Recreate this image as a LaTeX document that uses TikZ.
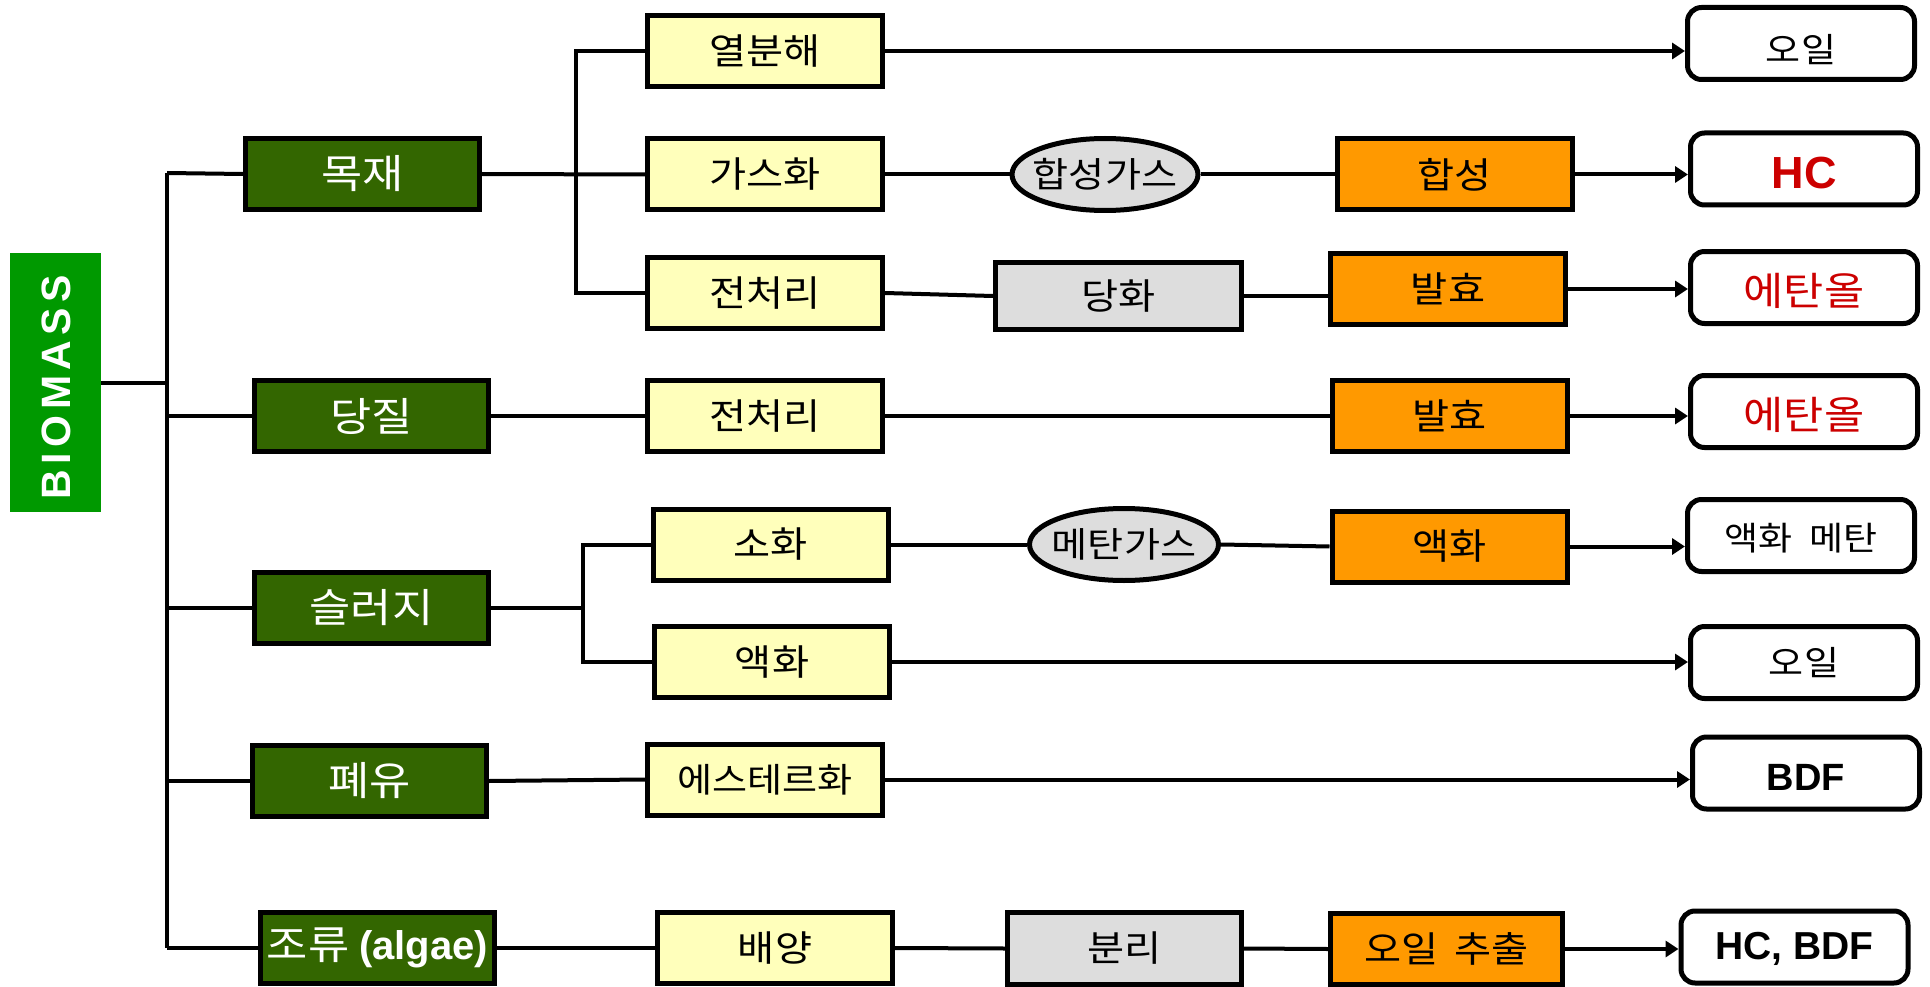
\documentclass[tikz,border=0pt]{standalone}
\usepackage{fontspec}
\setmainfont{Noto Sans CJK KR}[FakeStretch=1.12]
\newfontfamily\lat{Liberation Sans}
\usetikzlibrary{arrows.meta,shapes.geometric}
\definecolor{biog}{HTML}{009900}
\definecolor{catg}{HTML}{336600}
\definecolor{yelf}{HTML}{FFFFBB}
\definecolor{gryf}{HTML}{DDDDDD}
\definecolor{orgf}{HTML}{FF9900}
\definecolor{redt}{HTML}{CC0000}
\newcommand\fsz[1]{\fontsize{#1}{#1}\selectfont}
\newcommand\dn[2]{\raisebox{0pt}[\dimexpr\height+#1pt*2\relax][\depth]{#2}}
\newcommand\fixw[1]{\makebox[110pt]{#1}}
\begin{document}
\begin{tikzpicture}[x=1pt,y=-1pt,
  every node/.style={inner sep=0pt},
  biobox/.style={fill=biog, minimum width=91pt, minimum height=259pt},
  catbox/.style={draw=black, line width=5pt, fill=catg, text=white, minimum width=234pt, minimum height=71pt, font=\fsz{40}},
  yelbox/.style={draw=black, line width=5pt, fill=yelf, minimum width=235pt, minimum height=71pt, font=\fsz{36}},
  grybox/.style={draw=black, line width=5pt, fill=gryf, minimum width=234pt, minimum height=71pt, font=\fsz{36}},
  ellbox/.style={ellipse, draw=black, line width=5pt, fill=gryf, minimum width=186pt, minimum height=72pt, font=\fsz{35}},
  orgbox/.style={draw=black, line width=5pt, fill=orgf, minimum width=235pt, minimum height=71pt, font=\fsz{36}},
  outbox/.style={draw=black, line width=5pt, fill=white, rounded corners=14pt, minimum width=227pt, minimum height=72pt, font=\fsz{34}},
  conn/.style={line width=4pt},
  arr/.style={line width=4pt, -{Triangle[length=13pt,width=16pt]}}
]
\useasboundingbox (0,0) rectangle (1930,987);

% BIOMASS
\node[biobox] (bio) at (55.5,382.5) {};
\node[rotate=90, text=white, font=\lat\bfseries\fsz{41}] (biotxt) at (56.5,387) {B\kern5.5pt I\kern5.5pt O\kern5.5pt M\kern5.5pt A\kern5.5pt S\kern5.5pt S};

% categories
\node[catbox] (mok) at (362.5,174) {목재};
\node[catbox] (dang) at (371.5,416) {당질};
\node[catbox] (slu) at (371.5,607.5) {슬러지};
\node[catbox] (pye) at (369.5,781) {폐유};
\node[catbox] (jo) at (377.5,948) {조류 {\lat\bfseries (algae)}};

% yellow
\node[yelbox] (yeol) at (765,51) {열분해};
\node[yelbox] (gas) at (765,174.5) {가스화};
\node[yelbox] (jeon1) at (765,293) {전처리};
\node[yelbox] (jeon2) at (765,416) {전처리};
\node[yelbox] (soh) at (770.5,544.5) {소화};
\node[yelbox] (aekY) at (772,662) {액화};
\node[yelbox, font=\fsz{34}] (est) at (765,779.5) {에스테르화};
\node[yelbox] (bae) at (775,948) {배양};

% middle
\node[ellbox] (hapgas) at (1105,174.5) {\fixw{합성가스}};
\node[grybox, minimum width=246pt, minimum height=67pt] (danghwa) at (1118.5,296) {당화};
\node[ellbox, minimum width=189pt] (metgas) at (1124,544.5) {\fixw{메탄가스}};
\node[grybox, minimum height=72pt] (bun) at (1124.5,948.5) {분리};

% orange
\node[orgbox] (hap) at (1454.5,174.5) {합성};
\node[orgbox] (bal1) at (1448,289) {발효};
\node[orgbox] (bal2) at (1449.5,416) {발효};
\node[orgbox] (aekO) at (1449.5,546.5) {액화};
\node[orgbox, minimum width=232pt, minimum height=71pt] (oilx) at (1446.5,949) {오일\hspace{0.45em}추출};

% outputs
\node[outbox] (o1) at (1801,43.5) {\dn{6}{오일}};
\node[outbox, text=redt, font=\lat\bfseries\fsz{45}] (o2) at (1804,169) {\dn{4}{HC}};
\node[outbox, text=redt, font=\fsz{39}] (o3) at (1804,287.5) {\dn{3}{에탄올}};
\node[outbox, text=redt, font=\fsz{39}] (o4) at (1804,411.5) {\dn{3}{에탄올}};
\node[outbox, font=\fsz{33}] (o5) at (1801,535.5) {\dn{3}{액화\hspace{0.5em}메탄}};
\node[outbox] (o6) at (1804,662.5) {오일};
\node[outbox, font=\lat\bfseries\fsz{38}] (o7) at (1806,773) {\dn{4}{BDF}};
\node[outbox, font=\lat\bfseries\fsz{39}] (o8) at (1794.5,947) {\dn{2}{HC, BDF}};

% trunk
\coordinate (t1) at (167,173);
\coordinate (t2) at (167,948);
\draw[conn] (t1) -- (t2);
\draw[conn] (bio.east) -- (bio.east -| t1);
\draw[conn] (t1) -- (mok.west);
\draw[conn] (dang.west) -- (dang.west -| t1);
\draw[conn] (slu.west) -- (slu.west -| t1);
\draw[conn] (pye.west) -- (pye.west -| t1);
\draw[conn] (jo.west) -- (jo.west -| t1);

% wood branch
\coordinate (s1a) at (576,51);
\coordinate (s1b) at (576,293);
\draw[conn] (yeol.west) -- (s1a) -- (s1b) -- (jeon1.west);
\draw[conn] (mok.east) -- (gas.west);

% sludge branch
\coordinate (s2a) at (583,544.5);
\coordinate (s2b) at (583,662);
\draw[conn] (soh.west) -- (s2a) -- (s2b) -- (aekY.west);
\draw[conn] (slu.east) -- (slu.east -| s2a);

% other category links
\draw[conn] (dang.east) -- (jeon2.west);
\draw[conn] (pye.east) -- (est.west);
\draw[conn] (jo.east) -- (bae.west);

% process chains
\draw[conn] (gas.east) -- (hapgas.west);
\draw[conn] (hapgas.east) -- (hap.west);
\draw[conn] (jeon1.east) -- (danghwa.west);
\draw[conn] (danghwa.east) -- (danghwa.east -| bal1.west);
\draw[conn] (jeon2.east) -- (bal2.west);
\draw[conn] (soh.east) -- (metgas.west);
\draw[conn] (metgas.east) -- (aekO.west);
\draw[conn] (bae.east) -- (bun.west);
\draw[conn] (bun.east) -- (oilx.west);

% arrows to outputs
\draw[arr] (yeol.east) -- (yeol.east -| o1.west);
\draw[arr] (hap.east) -- (hap.east -| o2.west);
\draw[arr] (bal1.east) -- (bal1.east -| o3.west);
\draw[arr] (bal2.east) -- (bal2.east -| o4.west);
\draw[arr] (aekO.east) -- (aekO.east -| o5.west);
\draw[arr] (aekY.east) -- (aekY.east -| o6.west);
\draw[arr] (est.east) -- (est.east -| o7.west);
\draw[arr] (oilx.east) -- (oilx.east -| o8.west);
\end{tikzpicture}
\end{document}
